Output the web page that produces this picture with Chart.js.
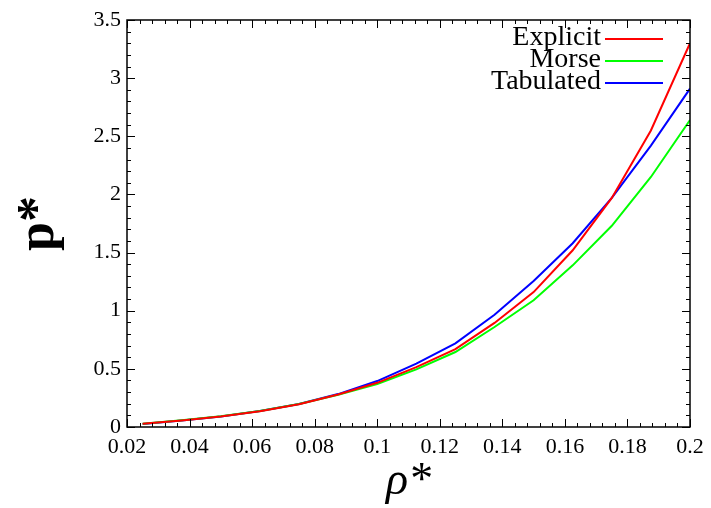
<!DOCTYPE html>
<html>
<head>
<meta charset="utf-8">
<script src="https://cdn.jsdelivr.net/npm/chart.js@4/dist/chart.umd.min.js"></script>
<style>
  html, body { margin: 0; padding: 0; background: #fff; }
  #wrap { width: 711px; height: 508px; }
</style>
</head>
<body>
<div id="wrap"><canvas id="c" width="711" height="508"></canvas></div>
<script>
// ---- data ----
const rho = [0.025, 0.0375, 0.05, 0.0625, 0.075, 0.0875, 0.1, 0.1125, 0.125, 0.1375, 0.15, 0.1625, 0.175, 0.1875, 0.2];
const explicitP  = [0.027, 0.055, 0.09, 0.135, 0.195, 0.28, 0.38, 0.515, 0.67, 0.895, 1.16, 1.52, 1.97, 2.55, 3.30];
const morseP     = [0.028, 0.058, 0.092, 0.138, 0.198, 0.278, 0.37, 0.495, 0.645, 0.86, 1.09, 1.39, 1.73, 2.15, 2.64];
const tabulatedP = [0.026, 0.055, 0.09, 0.137, 0.198, 0.283, 0.395, 0.545, 0.72, 0.965, 1.255, 1.58, 1.97, 2.42, 2.91];
const seriesLabels = ['Explicit', 'Morse', 'Tabulated'];
const seriesColors = ['#ff0000', '#00ff00', '#0000ff'];
const xTickLabels = ['0.02','0.04','0.06','0.08','0.1','0.12','0.14','0.16','0.18','0.2'];
const yTickLabels = ['0','0.5','1','1.5','2','2.5','3','3.5'];

const SERIF = '"Liberation Serif", "DejaVu Serif", serif';
const toPts = ys => rho.map((x, i) => ({ x: x, y: ys[i] }));

// frame, inward major/minor ticks on all sides, and legend
const framePlugin = {
  id: 'frame',
  afterDraw(chart) {
    const { ctx, chartArea: a, scales } = chart;
    const xs = scales.x, ys = scales.y;
    ctx.save();
    ctx.strokeStyle = '#000';
    ctx.lineWidth = 1.5;
    ctx.strokeRect(a.left, a.top, a.right - a.left, a.bottom - a.top);
    ctx.lineWidth = 1;
    ctx.beginPath();
    // x ticks: major 0.02, minor 0.004
    for (let k = 0; k <= 45; k++) {
      const v = 0.02 + k * 0.004;
      const px = Math.round(xs.getPixelForValue(v)) + 0.5;
      const len = (k % 5 === 0) ? 8 : 4;
      ctx.moveTo(px, a.bottom); ctx.lineTo(px, a.bottom - len);
      ctx.moveTo(px, a.top); ctx.lineTo(px, a.top + len);
    }
    // y ticks: major 0.5, minor 0.1
    for (let k = 0; k <= 35; k++) {
      const v = k * 0.1;
      const py = Math.round(ys.getPixelForValue(v)) + 0.5;
      const len = (k % 5 === 0) ? 8 : 4;
      ctx.moveTo(a.left, py); ctx.lineTo(a.left + len, py);
      ctx.moveTo(a.right, py); ctx.lineTo(a.right - len, py);
    }
    ctx.stroke();

    // legend (gnuplot style: text right-aligned, sample to its right)
    ctx.font = '28px ' + SERIF;
    ctx.textAlign = 'right';
    ctx.textBaseline = 'middle';
    chart.data.datasets.forEach((ds, i) => {
      const yRow = a.top + 18 + i * 22;
      ctx.fillStyle = '#000';
      ctx.fillText(ds.label, a.right - 89, yRow);
      ctx.strokeStyle = ds.borderColor;
      ctx.lineWidth = 2;
      ctx.beginPath();
      ctx.moveTo(a.right - 85, yRow + 1);
      ctx.lineTo(a.right - 27, yRow + 1);
      ctx.stroke();
    });
    ctx.restore();
  }
};

new Chart(document.getElementById('c'), {
  type: 'line',
  data: {
    datasets: [
      { label: seriesLabels[0], data: toPts(explicitP),  borderColor: seriesColors[0] },
      { label: seriesLabels[1], data: toPts(morseP),     borderColor: seriesColors[1] },
      { label: seriesLabels[2], data: toPts(tabulatedP), borderColor: seriesColors[2] }
    ].map(d => Object.assign(d, { borderWidth: 2, pointRadius: 0, tension: 0, fill: false }))
  },
  options: {
    responsive: false,
    animation: false,
    layout: { padding: { top: 20, right: 21, left: 0, bottom: 0 } },
    plugins: { legend: { display: false }, tooltip: { enabled: false } },
    scales: {
      x: {
        type: 'linear', min: 0.02, max: 0.2,
        afterFit(s) { s.height = 81; },
        afterBuildTicks(s) { s.ticks = xTickLabels.map(t => ({ value: parseFloat(t) })); },
        grid: { display: false, drawTicks: false },
        border: { display: false },
        ticks: {
          padding: 7, color: '#000', maxRotation: 0, autoSkip: false,
          font: { family: SERIF, size: 22 },
          callback: (v, i) => xTickLabels[i]
        },
        title: {
          display: true, text: 'ρ*', color: '#000',
          font: { family: SERIF, size: 46, style: 'italic' },
          padding: { top: 0, bottom: -2 }
        }
      },
      y: {
        type: 'linear', min: 0, max: 3.5,
        afterFit(s) { s.width = 127; },
        afterBuildTicks(s) { s.ticks = yTickLabels.map(t => ({ value: parseFloat(t) })); },
        grid: { display: false, drawTicks: false },
        border: { display: false },
        ticks: {
          padding: 6, color: '#000', autoSkip: false,
          font: { family: SERIF, size: 22 },
          callback: (v, i) => yTickLabels[i]
        },
        title: {
          display: true, text: 'p*', color: '#000',
          font: { family: SERIF, size: 52, weight: 'bold' },
          padding: { top: 8, bottom: 0 }
        }
      }
    }
  },
  plugins: [framePlugin]
});
</script>
</body>
</html>
